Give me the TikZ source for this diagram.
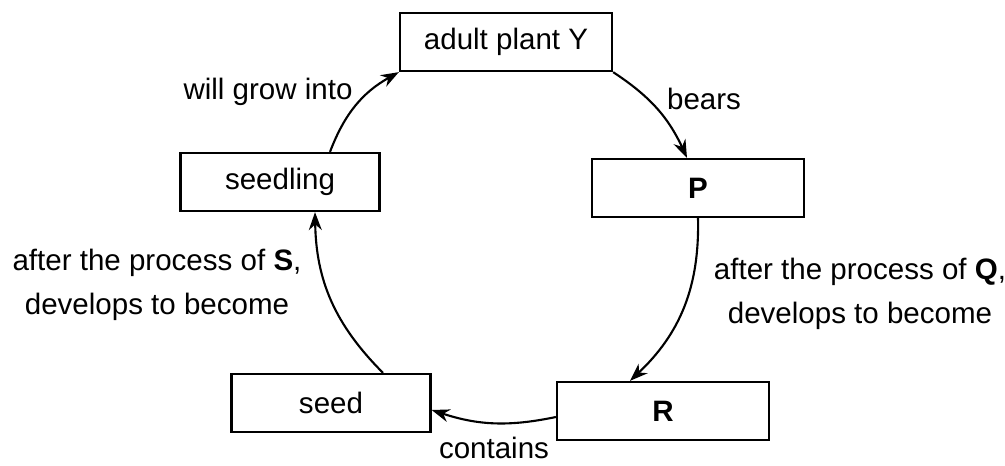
\documentclass[tikz,border=0pt]{standalone}
\usepackage{fontspec}
\setmainfont{Liberation Sans}
\usetikzlibrary{arrows.meta}

\begin{document}
\begin{tikzpicture}[x=0.2mm, y=0.2mm,
    stagebox/.style={draw, line width=1.3pt, minimum width=42.4mm, minimum height=11.6mm},
    smallbox/.style={stagebox, minimum width=39.8mm},
    cyclearrow/.style={-{Stealth[length=3.6mm, width=2.6mm]}, line width=1.2pt},
    every node/.style={font=\fontsize{16.8}{25}\selectfont}]
  \useasboundingbox (0,0) rectangle (1005,465);

  % Stages of the life cycle
  \node[stagebox] (adult) at (506,423) {adult plant Y};
  \node[stagebox] (P) at (698,277) {\textbf{P}};
  \node[stagebox] (R) at (663,54) {\textbf{R}};
  \node[smallbox] (seed) at (331,62) {seed};
  \node[smallbox] (seedling) at (280,283) {seedling};

  % Arrows round the cycle
  \draw[cyclearrow] ([xshift=10mm]seedling.north) to[bend left=20] (adult.south west);
  \draw[cyclearrow] (adult.south east) to[bend left=16] ([xshift=-2.2mm]P.north);
  \draw[cyclearrow] (P.south) to[bend left=24] ([xshift=-6.6mm]R.north);
  \draw[cyclearrow] ([yshift=-1.2mm]R.west) to[bend left=15] ([yshift=-1.4mm]seed.east);
  \draw[cyclearrow] ([xshift=10.4mm]seed.north) to[bend left=22] ([xshift=7mm]seedling.south);

  % Labels
  \node (growlabel) at (268,373) {will grow into};
  \node (bearslabel) at (704,366) {bears};
  \node[align=center] (qlabel) at (860,171) {after the process of \textbf{Q},\\ develops to become};
  \node (containslabel) at (494,17) {contains};
  \node[align=center] (slabel) at (157,180) {after the process of \textbf{S},\\ develops to become};
\end{tikzpicture}
\end{document}
